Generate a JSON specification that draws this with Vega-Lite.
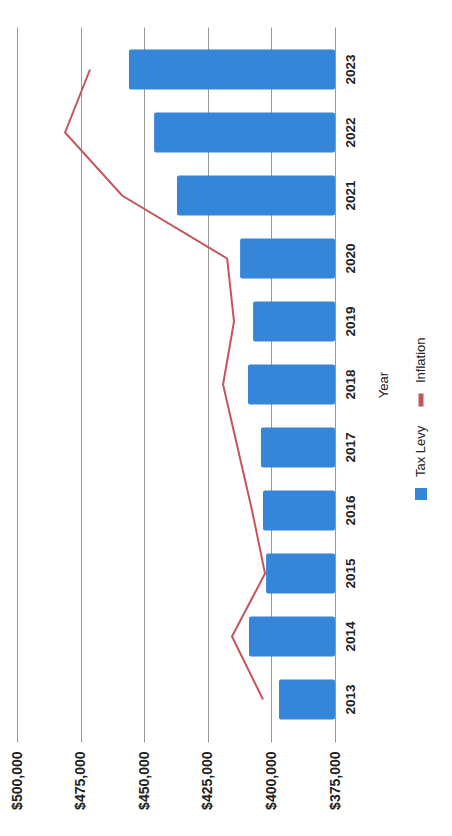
{
  "$schema": "https://vega.github.io/schema/vega-lite/v6.json",
  "background": "white",
  "padding": {"left": 10, "top": 27, "right": 0, "bottom": 0},
  "spacing": 20,
  "config": {"view": {"stroke": null}, "font": "Liberation Sans"},
  "datasets": {
    "levy": [
      {"year": "2013", "tax_levy": 397000, "inflation": 403300},
      {"year": "2014", "tax_levy": 408800, "inflation": 415500},
      {"year": "2015", "tax_levy": 402100, "inflation": 402500},
      {"year": "2016", "tax_levy": 403300, "inflation": 407600},
      {"year": "2017", "tax_levy": 404100, "inflation": 413300},
      {"year": "2018", "tax_levy": 409200, "inflation": 419000},
      {"year": "2019", "tax_levy": 407200, "inflation": 414700},
      {"year": "2020", "tax_levy": 412300, "inflation": 417400},
      {"year": "2021", "tax_levy": 437100, "inflation": 458700},
      {"year": "2022", "tax_levy": 446100, "inflation": 481100},
      {"year": "2023", "tax_levy": 456000, "inflation": 471300}
    ],
    "legend": [
      {"series": "Tax Levy"},
      {"series": "Inflation"}
    ]
  },
  "hconcat": [
    {
      "width": 318,
      "height": 715,
      "data": {"name": "levy"},
      "encoding": {
        "y": {
          "field": "year",
          "type": "ordinal",
          "sort": "descending",
          "scale": {"paddingInner": 0.365, "paddingOuter": 0.357},
          "axis": {
            "orient": "right",
            "title": "Year",
            "titleAngle": 270,
            "titleBaseline": "top",
            "titleFontSize": 13,
            "titleFontWeight": "normal",
            "titleColor": "#222",
            "titlePadding": 21,
            "labelAngle": 270,
            "labelAlign": "center",
            "labelBaseline": "top",
            "labelFontSize": 13.5,
            "labelFontWeight": "bold",
            "labelColor": "#222",
            "labelPadding": 8,
            "ticks": false,
            "domain": false,
            "grid": false
          }
        }
      },
      "layer": [
        {
          "mark": {"type": "bar", "color": "#3585d8", "cornerRadius": 2},
          "encoding": {
            "x": {
              "field": "tax_levy",
              "type": "quantitative",
              "scale": {"domain": [375000, 500000], "reverse": true, "nice": false, "zero": false},
              "axis": {
                "title": null,
                "values": [375000, 400000, 425000, 450000, 475000, 500000],
                "format": "$,.0f",
                "labelAngle": 270,
                "labelAlign": "right",
                "labelBaseline": "middle",
                "labelFontSize": 14,
                "labelFontWeight": "bold",
                "labelColor": "#222",
                "labelPadding": 9,
                "ticks": false,
                "domain": false,
                "grid": true,
                "gridColor": "#999999",
                "gridWidth": 1
              }
            },
            "x2": {"datum": 375000}
          }
        },
        {
          "mark": {"type": "line", "color": "#c5545b", "strokeWidth": 2},
          "encoding": {
            "x": {"field": "inflation", "type": "quantitative"},
            "order": {"field": "year", "type": "ordinal"}
          }
        }
      ]
    },
    {
      "width": 14,
      "height": 715,
      "data": {"name": "legend"},
      "encoding": {
        "y": {
          "field": "series",
          "type": "nominal",
          "scale": {"type": "point", "domain": ["Inflation", "Tax Levy"], "range": [373, 467], "padding": 0},
          "axis": null
        }
      },
      "layer": [
        {
          "transform": [{"filter": "datum.series === 'Tax Levy'"}],
          "mark": {"type": "point", "shape": "square", "filled": true, "color": "#3585d8", "size": 144, "opacity": 1}
        },
        {
          "transform": [{"filter": "datum.series === 'Inflation'"}],
          "mark": {"type": "point", "shape": "M0,-1L0,1", "filled": false, "color": "#c5545b", "strokeWidth": 5, "size": 169, "opacity": 1}
        },
        {
          "mark": {"type": "text", "angle": 270, "align": "left", "baseline": "middle", "dx": 17, "fontSize": 13, "color": "#222"},
          "encoding": {"text": {"field": "series"}}
        }
      ]
    }
  ]
}
